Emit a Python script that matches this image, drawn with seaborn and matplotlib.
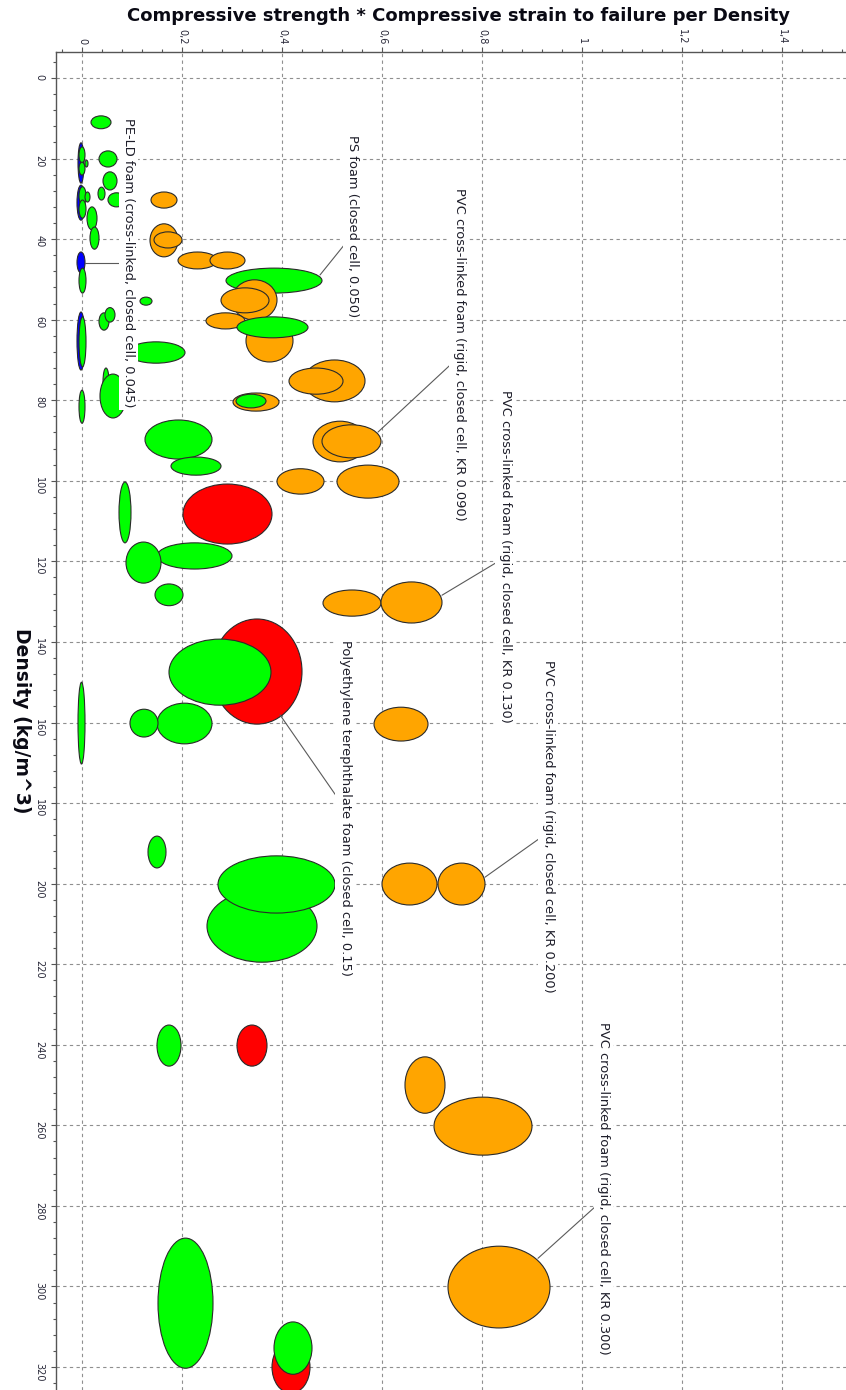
import matplotlib
matplotlib.use("Agg")
import matplotlib.pyplot as plt
from matplotlib.patches import Ellipse
from matplotlib.ticker import MultipleLocator, FuncFormatter
import seaborn as sns

# ---------------------------------------------------------------------------
# Material property ranges: compressive strength * strain to failure per
# density (x range) against density in kg/m^3 (y range). Listed in drawing
# order, later entries are painted on top of earlier ones.
# ---------------------------------------------------------------------------
family = [
    "pe", "pe", "pe", "pe",
    "foam", "foam", "foam", "foam", "foam", "foam", "foam", "foam", "foam", "foam",
    "foam", "foam", "foam", "foam", "foam", "foam", "foam",
    "foam", "foam", "foam", "foam", "foam", "foam",
    "pvc", "pvc", "pvc", "pvc", "pvc",
    "foam", "pvc", "pvc", "pvc", "pvc", "foam",
    "pvc", "foam",
    "pvc", "pvc",
    "pvc", "pvc", "pvc", "pvc",
    "foam", "foam", "foam", "pet", "foam", "foam", "foam",
    "pvc", "pvc",
    "pet", "foam", "foam", "foam", "pvc",
    "foam", "foam", "foam", "pvc", "pvc",
    "foam", "pet", "pvc", "pvc", "pvc",
    "foam", "pet", "foam",
]
strength_lo = [
    -0.008, -0.010, -0.010, -0.010,
    -0.006, -0.006, 0.006, -0.006, -0.006, 0.006, -0.006, -0.006, -0.006, -0.008,
    0.018, 0.034, 0.042, 0.032, 0.052, 0.010, 0.016,
    0.034, 0.046, 0.116, 0.042, 0.036, 0.090,
    0.136, 0.144, 0.138, 0.192, 0.256,
    0.288, 0.300, 0.278, 0.248, 0.328, 0.310,
    0.302, 0.308,
    0.444, 0.414,
    0.462, 0.480, 0.390, 0.510,
    0.126, 0.178, 0.074, 0.202, 0.150, 0.088, 0.146,
    0.482, 0.598,
    0.260, 0.174, 0.150, 0.096, 0.584,
    0.132, 0.250, 0.272, 0.600, 0.712,
    0.150, 0.310, 0.646, 0.704, 0.732,
    0.152, 0.380, 0.384,
]
strength_hi = [
    0.004, 0.006, 0.006, 0.006,
    0.006, 0.006, 0.012, 0.008, 0.008, 0.016, 0.008, 0.008, 0.006, 0.006,
    0.058, 0.070, 0.070, 0.046, 0.086, 0.030, 0.034,
    0.054, 0.066, 0.140, 0.054, 0.088, 0.206,
    0.192, 0.200, 0.190, 0.270, 0.326,
    0.480, 0.390, 0.374, 0.326, 0.422, 0.452,
    0.394, 0.368,
    0.566, 0.522,
    0.570, 0.598, 0.484, 0.634,
    0.260, 0.278, 0.098, 0.380, 0.300, 0.158, 0.202,
    0.598, 0.720,
    0.440, 0.378, 0.260, 0.152, 0.692,
    0.168, 0.470, 0.506, 0.710, 0.806,
    0.198, 0.370, 0.726, 0.900, 0.936,
    0.262, 0.456, 0.460,
]
density_lo = [
    16.1, 26.6, 43.2, 58.1,
    17.1, 20.9, 20.4, 27.0, 30.3, 28.3, 47.2, 59.3, 77.5, 150.0,
    9.4, 18.1, 23.3, 27.1, 28.5, 32.0, 37.0,
    58.3, 57.0, 54.4, 72.0, 73.5, 65.5,
    36.2, 38.2, 28.3, 43.2, 43.2,
    47.2, 50.1, 52.1, 58.3, 60.0, 59.3,
    78.2, 78.5,
    70.0, 72.0,
    85.2, 86.1, 97.0, 96.1,
    84.9, 94.1, 100.3, 100.8, 115.4, 115.2, 125.6,
    127.1, 125.1,
    134.3, 139.3, 155.2, 156.7, 156.2,
    188.2, 201.6, 193.1, 194.9, 194.9,
    235.1, 235.1, 243.0, 253.0, 290.0,
    288.0, 313.5, 308.8,
]
density_hi = [
    26.1, 35.3, 48.4, 72.5,
    21.1, 24.1, 22.1, 31.5, 34.8, 30.8, 53.4, 71.7, 85.7, 170.3,
    12.6, 22.1, 27.8, 30.3, 32.0, 37.7, 42.5,
    62.6, 60.6, 56.4, 78.7, 84.4, 70.8,
    44.4, 42.2, 32.3, 47.4, 47.4,
    53.4, 60.1, 58.3, 62.3, 70.5, 64.5,
    82.7, 81.9,
    80.4, 78.5,
    95.3, 94.3, 103.3, 104.3,
    94.6, 98.6, 115.4, 115.7, 121.9, 125.4, 131.0,
    133.6, 135.3,
    160.4, 155.7, 165.3, 163.6, 164.6,
    196.1, 219.5, 207.3, 205.3, 205.3,
    245.3, 245.3, 257.0, 267.4, 310.3,
    320.3, 326.5, 321.8,
]

family_colors = {
    "pe": "#0000ff",
    "foam": "#00ff00",
    "pvc": "#ffa500",
    "pet": "#ff0000",
}

# Annotated materials: label text, anchor of the text (x centre, y top),
# and the leader line running from the bubble to the text.
label_text = [
    "PE-LD foam (cross-linked, closed cell, 0.045)",
    "PS foam (closed cell, 0.050)",
    "PVC cross-linked foam (rigid, closed cell, KR 0.090)",
    "PVC cross-linked foam (rigid, closed cell, KR 0.130)",
    "Polyethylene terephthalate foam (closed cell, 0.15)",
    "PVC cross-linked foam (rigid, closed cell, KR 0.200)",
    "PVC cross-linked foam (rigid, closed cell, KR 0.300)",
]
label_x = [0.093, 0.542, 0.754, 0.846, 0.526, 0.932, 1.043]
label_y = [9.9, 14.2, 27.3, 77.5, 139.5, 144.5, 234.4]
leader_x0 = [0.006, 0.476, 0.592, 0.720, 0.396, 0.806, 0.912]
leader_y0 = [45.9, 48.9, 87.9, 128.4, 158.1, 198.4, 293.0]
leader_x1 = [0.076, 0.526, 0.736, 0.830, 0.510, 0.916, 1.030]
leader_y1 = [45.9, 41.2, 71.3, 120.2, 178.5, 188.7, 279.8]

x_ticks = [0.0, 0.2, 0.4, 0.6, 0.8, 1.0, 1.2, 1.4]
y_ticks = list(range(0, 321, 20))

sns.set_theme(style="white")
plt.rcParams["font.family"] = ["DejaVu Sans"]

W, H = 846, 1390
fig = plt.figure(figsize=(W / 100, H / 100), dpi=100)
ax = fig.add_axes([56 / W, 0, (W - 56) / W, (H - 52) / H])

# Bubbles
for i, fam in enumerate(family):
    cx = (strength_lo[i] + strength_hi[i]) / 2
    cy = (density_lo[i] + density_hi[i]) / 2
    e = Ellipse((cx, cy), strength_hi[i] - strength_lo[i],
                density_hi[i] - density_lo[i],
                facecolor=family_colors[fam], edgecolor="#2a2a2a",
                linewidth=0.8, zorder=3 + i * 0.01)
    ax.add_patch(e)

# Leader lines and labels
for i, txt in enumerate(label_text):
    ax.plot([leader_x0[i], leader_x1[i]], [leader_y0[i], leader_y1[i]],
            color="#5a5a5a", linewidth=0.8, zorder=5)
    ax.text(label_x[i], label_y[i], txt, rotation=-90, ha="center", va="top",
            fontsize=9.4, color="#1e1e2a", zorder=6,
            bbox=dict(facecolor="white", edgecolor="none", pad=2.2))

ax.set_xlim(-0.052, 1.528)
ax.set_ylim(325.7, -6.45)

ax.xaxis.tick_top()
ax.set_xticks(x_ticks)
ax.set_yticks(y_ticks)
ax.xaxis.set_minor_locator(MultipleLocator(0.04))
ax.yaxis.set_minor_locator(MultipleLocator(4))
ax.xaxis.set_major_formatter(FuncFormatter(lambda v, p: f"{round(v, 2):g}".replace(".", ",")))
ax.yaxis.set_major_formatter(FuncFormatter(lambda v, p: f"{int(round(v))}"))

ax.tick_params(axis="both", which="both", direction="out", color="#555555",
               labelcolor="#2a2a3a", width=0.8)
ax.tick_params(axis="x", which="both", top=True, bottom=False,
               labeltop=True, labelbottom=False, labelrotation=-90)
ax.tick_params(axis="y", which="both", left=True, right=False,
               labelleft=True, labelrotation=-90)
ax.tick_params(which="major", length=3.5, labelsize=7, pad=2)
ax.tick_params(axis="y", which="major", pad=5)
ax.tick_params(which="minor", length=2)

ax.grid(True, which="major", color="#8f8f8f", linestyle=(0, (3, 3)),
        linewidth=0.8, zorder=0)
ax.set_axisbelow(True)

for side in ("right", "bottom"):
    ax.spines[side].set_visible(False)
for side in ("top", "left"):
    ax.spines[side].set_color("#555555")
    ax.spines[side].set_linewidth(1.0)

fig.text(458 / W, 1 - 16 / H,
         "Compressive strength * Compressive strain to failure per Density",
         ha="center", va="center", fontsize=13, fontweight="bold", color="#0a0a14")
fig.text(21 / W, 1 - 721 / H, "Density (kg/m^3)", rotation=-90,
         ha="center", va="center", fontsize=13.5, fontweight="bold", color="#0a0a14")

fig.savefig("out.png", dpi=100)
